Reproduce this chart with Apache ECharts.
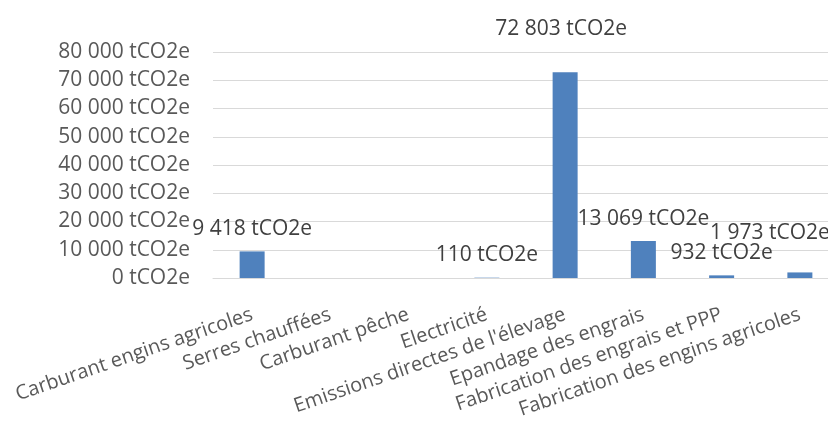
<!DOCTYPE html>
<html><head><meta charset="utf-8">
<script src="https://cdn.jsdelivr.net/npm/echarts@6/dist/echarts.min.js"></script>
<style>html,body{margin:0;padding:0;background:#fff}#c{width:828px;height:423px}</style>
</head><body><div id="c"></div>
<script>
const categories = ["Carburant engins agricoles","Serres chauffées","Carburant pêche","Electricité","Emissions directes de l'élevage","Epandage des engrais","Fabrication des engrais et PPP","Fabrication des engins agricoles"];
const values = [9418, null, null, 110, 72803, 13069, 932, 1973];
const yTicks = [0, 10000, 20000, 30000, 40000, 50000, 60000, 70000, 80000];
const unit = " tCO2e";

function fmt(v){ return String(Math.round(v)).replace(/\B(?=(\d{3})+(?!\d))/g, " ") + unit; }

const labelShift = {4: [-4, -21], 7: [-30, -17]};
const FONT = "Open Sans";

const chart = echarts.init(document.getElementById('c'), null, {renderer:'canvas'});
chart.setOption({
  animation: false,
  backgroundColor: '#fff',
  grid: {left: 213, top: 52, bottom: 145, width: 626, outerBoundsMode: 'none', containLabel: false},
  xAxis: {
    type: 'category', data: categories,
    axisLine: {show: true, lineStyle: {color: '#d9d9d9', width: 1}},
    axisTick: {show: false},
    axisLabel: {rotate: 19, interval: 0, margin: 36, color: '#595959', fontFamily: FONT, fontSize: 20}
  },
  yAxis: {
    type: 'value', min: yTicks[0], max: yTicks[yTicks.length-1], interval: yTicks[1]-yTicks[0],
    axisLine: {show: false}, axisTick: {show: false},
    splitLine: {lineStyle: {color: '#d9d9d9', width: 1}},
    axisLabel: {margin: 23, color: '#595959', fontFamily: FONT, fontSize: 21, formatter: fmt}
  },
  series: [{
    type: 'bar', barWidth: 25,
    itemStyle: {color: '#4f81bd'},
    data: values.map((v, i) => ({
      value: v,
      label: labelShift[i] ? {offset: labelShift[i]} : undefined
    })),
    label: {show: true, position: 'top', distance: 12, color: '#404040', fontFamily: FONT, fontSize: 21,
      formatter: p => p.value == null ? '' : fmt(p.value)}
  }]
});
</script></body></html>
